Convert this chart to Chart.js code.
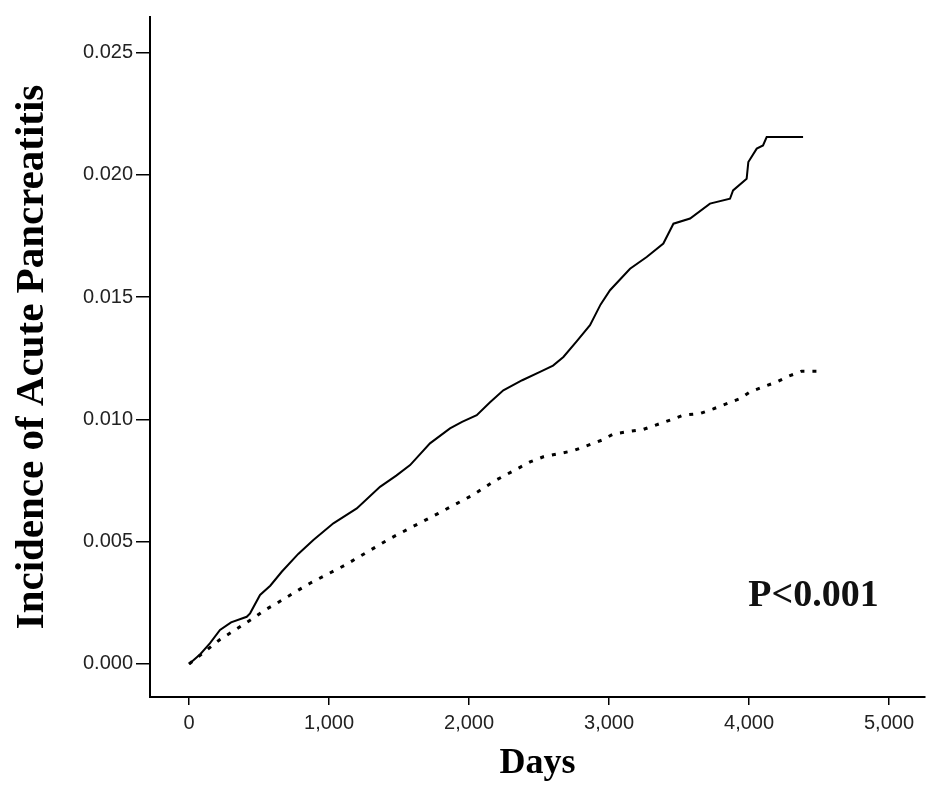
<!DOCTYPE html>
<html>
<head>
<meta charset="utf-8">
<script src="https://cdn.jsdelivr.net/npm/chart.js@4.4.1/dist/chart.umd.min.js"></script>
<style>
  html, body { margin: 0; padding: 0; background: #fff; }
  #wrap { width: 928px; height: 787px; }
</style>
</head>
<body>
<div id="wrap"><canvas id="chart" width="928" height="787"></canvas></div>
<script>
// solid line (upper curve)
const solidDays = [0, 80, 150, 221, 300, 412, 436, 507, 580, 662, 780, 888, 1031, 1198, 1364, 1480, 1579, 1721, 1864, 1950,
  2055, 2150, 2245, 2380, 2507, 2600, 2674, 2770, 2864, 2940, 3007, 3150, 3269, 3388, 3460, 3579, 3721, 3864, 3886,
  3983, 3995, 4055, 4100, 4126, 4386];
const solidInc = [0, 0.0004, 0.00085, 0.00139, 0.0017, 0.00193, 0.00207, 0.00282, 0.0032, 0.00377, 0.0045, 0.00507,
  0.00575, 0.00636, 0.00724, 0.0077, 0.00813, 0.00902, 0.00963, 0.0099, 0.01017, 0.0107, 0.01119, 0.0116, 0.01194,
  0.0122, 0.01255, 0.0132, 0.01385, 0.0147, 0.01528, 0.01616, 0.01664, 0.01719, 0.018, 0.01821, 0.01882, 0.01902,
  0.01936, 0.01984, 0.02052, 0.02107, 0.0212, 0.02154, 0.02154];

// dotted line (lower curve)
const dottedDays = [0, 221, 459, 543, 626, 781, 864, 1114, 1436, 1781, 2024, 2193, 2364, 2436, 2531, 2745, 2948, 3031,
  3126, 3245, 3436, 3531, 3650, 3745, 3936, 4007, 4102, 4198, 4281, 4376, 4507];
const dottedInc = [0, 0.001, 0.00187, 0.00221, 0.00248, 0.00302, 0.0033, 0.00404, 0.00513, 0.00616, 0.0069, 0.00752,
  0.00804, 0.00826, 0.00847, 0.00872, 0.00915, 0.0094, 0.00949, 0.00959, 0.00997, 0.01017, 0.01024, 0.01043, 0.01085,
  0.01112, 0.01133, 0.01153, 0.01176, 0.01197, 0.01197];

const xTicks = [0, 1000, 2000, 3000, 4000, 5000];
const yTicks = [0, 0.005, 0.010, 0.015, 0.020, 0.025];
const pLabel = "P<0.001";

function pairs(xs, ys) {
  return xs.map((x, i) => ({ x: x, y: ys[i] }));
}

// P value text
const pText = {
  id: "pText",
  afterDraw(chart) {
    const ctx = chart.ctx;
    const a = chart.chartArea;
    ctx.save();
    ctx.font = "bold 38px 'Liberation Serif'";
    ctx.fillStyle = "#111";
    ctx.textAlign = "left";
    ctx.textBaseline = "alphabetic";
    ctx.fillText(pLabel, a.left + (a.right - a.left) * 0.772, a.top + (a.bottom - a.top) * 0.866);
    ctx.restore();
  }
};

const tickFont = { family: "'Liberation Sans', Arial", size: 20 };

new Chart(document.getElementById("chart"), {
  type: "line",
  data: {
    datasets: [
      {
        data: pairs(solidDays, solidInc),
        borderColor: "#000",
        borderWidth: 2,
        pointRadius: 0,
        tension: 0
      },
      {
        data: pairs(dottedDays, dottedInc),
        borderColor: "#000",
        borderWidth: 3,
        borderDash: [4, 8],
        borderCapStyle: "butt",
        pointRadius: 0,
        tension: 0
      }
    ]
  },
  options: {
    responsive: false,
    animation: false,
    layout: { padding: { top: 17, right: 3, left: 0, bottom: 0 } },
    plugins: { legend: { display: false }, tooltip: { enabled: false } },
    scales: {
      x: {
        type: "linear",
        min: -279,
        max: 5257,
        afterBuildTicks: (s) => { s.ticks = xTicks.map(v => ({ value: v })); },
        afterFit: (s) => { s.height = 90; },
        grid: { drawOnChartArea: false, drawTicks: true, tickLength: 8, color: "#000", lineWidth: 1.5 },
        border: { color: "#000", width: 2 },
        ticks: {
          color: "#222",
          font: tickFont,
          padding: 6,
          maxRotation: 0,
          callback: (v) => v.toLocaleString("en-US")
        },
        title: {
          display: true,
          text: "Days",
          color: "#000",
          font: { family: "'Liberation Serif'", size: 36, weight: "bold" },
          padding: { top: 0, bottom: 2 }
        }
      },
      y: {
        min: -0.00135,
        max: 0.02645,
        afterBuildTicks: (s) => { s.ticks = yTicks.map(v => ({ value: v })); },
        afterFit: (s) => { s.width = 150; },
        grid: { drawOnChartArea: false, drawTicks: true, tickLength: 14, color: "#000", lineWidth: 1.5 },
        border: { color: "#000", width: 2 },
        ticks: {
          color: "#222",
          font: tickFont,
          padding: 3,
          callback: (v) => v.toFixed(3)
        },
        title: {
          display: true,
          text: "Incidence of Acute Pancreatitis",
          color: "#000",
          font: { family: "'Liberation Serif'", size: 41, weight: "bold" },
          padding: { top: 8, bottom: 0 }
        }
      }
    }
  },
  plugins: [pText]
});
</script>
</body>
</html>
